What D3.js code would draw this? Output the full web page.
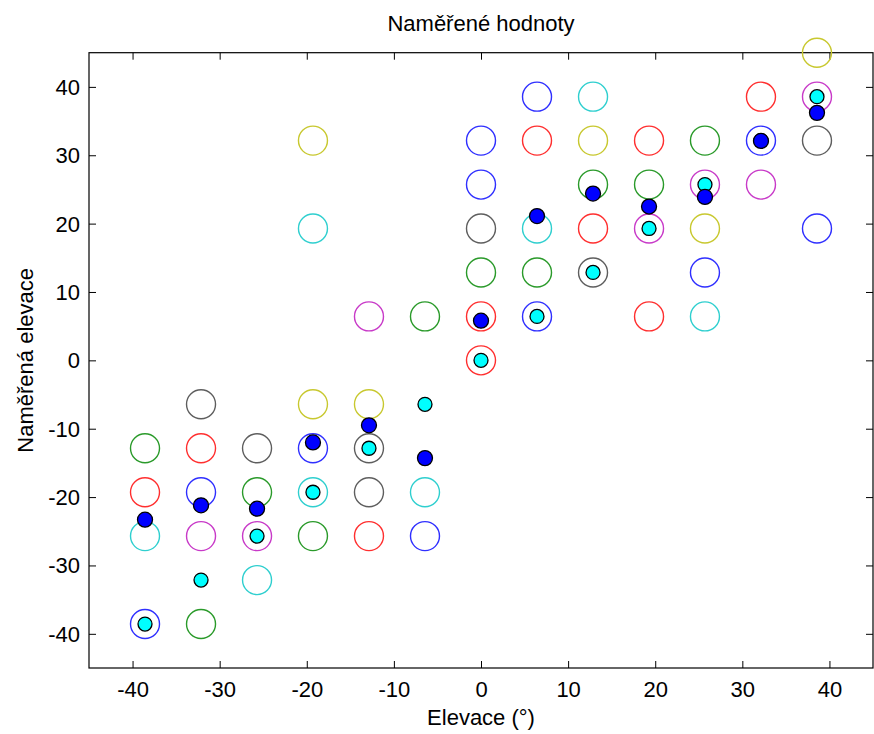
<!DOCTYPE html>
<html>
<head>
<meta charset="utf-8">
<script src="https://cdn.jsdelivr.net/npm/d3@7"></script>
<style>
  body { margin: 0; background: #fff; }
  svg { display: block; }
  text { font-family: "Liberation Sans", Arial, sans-serif; }
</style>
</head>
<body>
<div id="chart"></div>
<script>
// tick values on both axes
const ticks = [-40, -30, -20, -10, 0, 10, 20, 30, 40];

// measured elevations [elevation, measured] per colour (one colour per series)
const blueSeries = [[-38.57, -38.57], [-32.14, -19.29], [-19.29, -12.86], [-6.43, -25.71], [0, 32.14], [0, 25.71], [6.43, 38.57], [6.43, 6.43], [25.71, 12.86], [32.14, 32.14], [38.57, 19.29]];
const greenSeries = [[-38.57, -12.86], [-32.14, -38.57], [-25.71, -19.29], [-19.29, -25.71], [-6.43, 6.43], [0, 12.86], [6.43, 12.86], [12.86, 25.71], [19.29, 25.71], [25.71, 32.14]];
const redSeries = [[-38.57, -19.29], [-32.14, -12.86], [-12.86, -25.71], [0, 6.43], [0, 0], [6.43, 32.14], [12.86, 19.29], [19.29, 32.14], [19.29, 6.43], [32.14, 38.57]];
const cyanSeries = [[-38.57, -25.71], [-25.71, -32.14], [-19.29, 19.29], [-19.29, -19.29], [-6.43, -19.29], [6.43, 19.29], [12.86, 38.57], [25.71, 6.43]];
const magentaSeries = [[-32.14, -25.71], [-25.71, -25.71], [-12.86, 6.43], [19.29, 19.29], [25.71, 25.71], [32.14, 25.71], [38.57, 38.57]];
const yellowSeries = [[-19.29, 32.14], [-19.29, -6.43], [-12.86, -6.43], [12.86, 32.14], [25.71, 19.29], [38.57, 45]];
const blackSeries = [[-32.14, -6.43], [-25.71, -12.86], [-12.86, -12.86], [-12.86, -19.29], [0, 19.29], [12.86, 12.86], [38.57, 32.14]];

// elevations and the two summary markers
const elevations = [-38.57, -32.14, -25.71, -19.29, -12.86, -6.43, 0, 6.43, 12.86, 19.29, 25.71, 32.14, 38.57];
const trueValues = [-38.57, -32.14, -25.71, -19.29, -12.86, -6.43, 0, 6.43, 12.86, 19.29, 25.71, 32.14, 38.57];
const meanValues = [-23.3, -21.2, -21.7, -12.0, -9.5, -14.3, 5.8, 21.1, 24.4, 22.5, 23.9, 32.1, 36.2];

/*******************************/
/*    Declare the constants    */
/*******************************/
const width = 874;
const height = 734;
const margin = {top: 52.7, right: 1, bottom: 66, left: 89};
const innerWidth = width - margin.left - margin.right;
const innerHeight = height - margin.top - margin.bottom;

const svg = d3.select("#chart")
  .append("svg")
    .attr("width", width)
    .attr("height", height)
    .attr("viewBox", `0 0 ${width} ${height}`);

const innerChart = svg.append("g")
  .attr("transform", `translate(${margin.left}, ${margin.top})`);

/****************************/
/*    Declare the scales    */
/****************************/
const xScale = d3.scaleLinear().domain([-45, 45]).range([0, innerWidth]);
const yScale = d3.scaleLinear().domain([-45, 45]).range([innerHeight, 0]);

/**************************/
/*      Add the axes      */
/**************************/
const tickLen = 7;
const fontSize = 22;
const fmt = d => String(d); // plain hyphen minus, like the original

const styleAxis = g => {
  g.attr("font-size", fontSize).attr("font-family", null);
  g.select(".domain").remove();
  g.selectAll(".tick line").attr("stroke", "#000");
  g.selectAll("text").attr("fill", "#000");
};
const dropText = g => g.selectAll(".tick text").remove();

innerChart.append("g")
  .attr("transform", `translate(0, ${innerHeight})`)
  .call(d3.axisBottom(xScale).tickValues(ticks).tickSize(-tickLen).tickPadding(13).tickFormat(fmt))
  .call(styleAxis)
  .call(g => g.selectAll(".tick text").attr("dy", 15.6));

innerChart.append("g")
  .call(d3.axisTop(xScale).tickValues(ticks).tickSize(-tickLen))
  .call(styleAxis)
  .call(dropText);

innerChart.append("g")
  .call(d3.axisLeft(yScale).tickValues(ticks).tickSize(-tickLen).tickPadding(9).tickFormat(fmt))
  .call(styleAxis)
  .call(g => g.selectAll(".tick text").attr("dy", 7.5));

innerChart.append("g")
  .attr("transform", `translate(${innerWidth}, 0)`)
  .call(d3.axisRight(yScale).tickValues(ticks).tickSize(-tickLen))
  .call(styleAxis)
  .call(dropText);

innerChart.append("rect")
  .attr("x", 0)
  .attr("y", 0)
  .attr("width", innerWidth)
  .attr("height", innerHeight)
  .attr("fill", "none")
  .attr("stroke", "#000")
  .attr("stroke-width", 1.2);

/*******************************/
/*      Append the shapes      */
/*******************************/
const series = [
  {points: blueSeries, color: "#2f2fff"},
  {points: greenSeries, color: "#2a9a2a"},
  {points: redSeries, color: "#ff2f2f"},
  {points: cyanSeries, color: "#2fcfcf"},
  {points: magentaSeries, color: "#c83ac8"},
  {points: yellowSeries, color: "#c8c82f"},
  {points: blackSeries, color: "#5e5e5e"}
];

series.forEach(s => {
  innerChart.append("g")
    .selectAll("circle")
    .data(s.points)
    .join("circle")
      .attr("cx", d => xScale(d[0]))
      .attr("cy", d => yScale(d[1]))
      .attr("r", 14.5)
      .attr("fill", "none")
      .attr("stroke", s.color)
      .attr("stroke-width", 1.4);
});

// true elevation (cyan) then measured mean (blue) on top
innerChart.append("g")
  .selectAll("circle")
  .data(elevations.map((e, i) => [e, trueValues[i]]))
  .join("circle")
    .attr("cx", d => xScale(d[0]))
    .attr("cy", d => yScale(d[1]))
    .attr("r", 7)
    .attr("fill", "#00ffff")
    .attr("stroke", "#000")
    .attr("stroke-width", 1.3);

innerChart.append("g")
  .selectAll("circle")
  .data(elevations.map((e, i) => [e, meanValues[i]]))
  .join("circle")
    .attr("cx", d => xScale(d[0]))
    .attr("cy", d => yScale(d[1]))
    .attr("r", 7.5)
    .attr("fill", "#0000ff")
    .attr("stroke", "#000")
    .attr("stroke-width", 1.3);

/*******************************/
/*          The labels         */
/*******************************/
svg.append("text")
  .attr("x", margin.left + innerWidth / 2)
  .attr("y", 31)
  .attr("text-anchor", "middle")
  .attr("font-size", fontSize)
  .text("Naměřené hodnoty");

svg.append("text")
  .attr("x", margin.left + innerWidth / 2)
  .attr("y", 725)
  .attr("text-anchor", "middle")
  .attr("font-size", fontSize)
  .text("Elevace (°)");

svg.append("text")
  .attr("transform", `translate(33, ${margin.top + innerHeight / 2}) rotate(-90)`)
  .attr("text-anchor", "middle")
  .attr("font-size", fontSize)
  .text("Naměřená elevace");
</script>
</body>
</html>
